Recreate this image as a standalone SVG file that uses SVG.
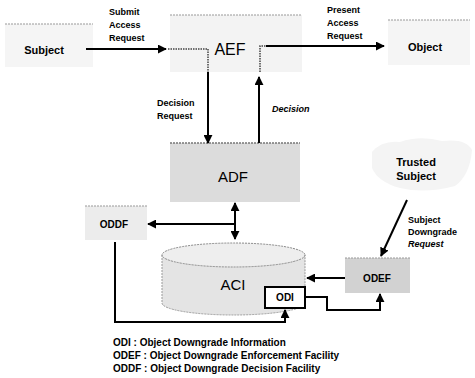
<svg xmlns="http://www.w3.org/2000/svg" width="475" height="378" viewBox="0 0 475 378">
<style>
  text { font-family: "Liberation Sans", Arial, sans-serif; fill: #000; }
  .lbl { font-size: 9px; font-weight: bold; }
  .node { font-size: 11px; font-weight: bold; }
  .small { font-size: 10px; font-weight: bold; }
  .big { font-size: 15px; }
  .leg { font-size: 10px; font-weight: bold; }
  .edge { stroke: #000; stroke-width: 2; fill: none; }
  .dot { stroke: #444; stroke-width: 1.5; stroke-dasharray: 1.5 1; fill: none; }
  .topline { stroke: #999; stroke-width: 1; stroke-dasharray: 2 1; }
</style>
<defs>
  <marker id="ah" viewBox="0 0 10 10" refX="9" refY="5" markerWidth="4.5" markerHeight="4.5" orient="auto-start-reverse">
    <path d="M0,0 L10,5 L0,10 Z" fill="#000"/>
  </marker>
</defs>
<rect width="475" height="378" fill="#fff"/>

<g id="subject">
  <rect x="5" y="24" width="88" height="43" fill="#f5f5f5"/>
  <line x1="5" y1="24" x2="93" y2="24" class="topline"/>
  <text x="44" y="54" class="node" text-anchor="middle">Subject</text>
</g>
<g id="aef">
  <rect x="170" y="15" width="132" height="57" fill="#f3f3f3"/>
  <line x1="170" y1="15" x2="302" y2="15" class="topline"/>
  <text x="230" y="55" font-size="16" text-anchor="middle">AEF</text>
</g>
<g id="object">
  <rect x="388" y="20" width="82" height="45" fill="#f5f5f5"/>
  <line x1="388" y1="20" x2="470" y2="20" class="topline"/>
  <text x="425" y="51" class="node" font-size="12.5" text-anchor="middle">Object</text>
</g>
<g id="adf">
  <rect x="170" y="143" width="130" height="59" fill="#dcdcdc"/>
  <line x1="170" y1="143" x2="300" y2="143" stroke="#777" stroke-width="1.5" stroke-dasharray="2 1"/>
  <text x="233" y="182" class="big" text-anchor="middle">ADF</text>
</g>
<g id="trusted">
  <path d="M372,152 Q382,140 400,142 Q420,135 442,141 Q466,138 472,150 Q470,175 455,186 Q425,194 400,188 Q378,182 372,168 Z" fill="#f4f4f4"/>
  <text x="416" y="166" class="node" font-size="12" text-anchor="middle">Trusted</text>
  <text x="416" y="180" class="node" font-size="12" text-anchor="middle">Subject</text>
</g>
<g id="oddf">
  <rect x="85" y="206" width="62" height="34" fill="#ececec"/>
  <line x1="85" y1="206" x2="147" y2="206" class="topline"/>
  <text x="114" y="228" class="small" text-anchor="middle">ODDF</text>
</g>
<g id="aci">
  <path d="M162,255 L162,303 A71.5,12 0 0 0 305,303 L305,255" fill="#e4e4e4"/>
  <ellipse cx="233.5" cy="255" rx="71.5" ry="12" fill="#eeeeee" stroke="#888" stroke-width="1" stroke-dasharray="2 1"/>
  <path d="M162,255 L162,303 A71.5,12 0 0 0 305,303 L305,255" fill="none" stroke="#999" stroke-width="1" stroke-dasharray="2 1"/>
  <text x="233" y="290" class="big" text-anchor="middle">ACI</text>
</g>
<g id="odi">
  <rect x="265" y="287" width="40" height="21" fill="#fff" stroke="#000" stroke-width="2"/>
  <text x="285" y="301" class="small" text-anchor="middle">ODI</text>
</g>
<g id="odef">
  <rect x="345" y="258" width="65" height="35" fill="#d2d2d2"/>
  <line x1="345" y1="258" x2="410" y2="258" class="topline"/>
  <text x="377" y="282" class="small" text-anchor="middle">ODEF</text>
</g>

<g id="connectors">
  <line x1="86" y1="49" x2="166" y2="49" class="edge" marker-end="url(#ah)"/>
  <path d="M168,49 H208 V72" class="dot"/>
  <path d="M260,72 V46 H266" class="dot"/>
  <line x1="266" y1="46" x2="384" y2="46" class="edge" marker-end="url(#ah)"/>
  <line x1="208" y1="72" x2="208" y2="143" class="edge" marker-end="url(#ah)"/>
  <line x1="259" y1="143" x2="259" y2="77" class="edge" marker-end="url(#ah)"/>
  <line x1="235" y1="203" x2="235" y2="239" class="edge" marker-start="url(#ah)" marker-end="url(#ah)"/>
  <line x1="235" y1="224" x2="148" y2="224" class="edge" marker-end="url(#ah)"/>
  <path d="M115,242 V322 H285 V310" class="edge" marker-end="url(#ah)"/>
  <line x1="345" y1="278" x2="307" y2="278" class="edge" marker-end="url(#ah)"/>
  <path d="M305,297 H327 V310 H380 V294" class="edge" marker-end="url(#ah)"/>
  <line x1="407" y1="200" x2="381" y2="256" class="edge" marker-end="url(#ah)"/>
</g>

<g id="labels">
  <text x="109" y="15" class="lbl">Submit</text>
  <text x="109" y="28" class="lbl">Access</text>
  <text x="109" y="41" class="lbl">Request</text>
  <text x="327" y="13" class="lbl">Present</text>
  <text x="327" y="26" class="lbl">Access</text>
  <text x="327" y="39" class="lbl">Request</text>
  <text x="157" y="106" class="lbl" font-size="9.5">Decision</text>
  <text x="157" y="119" class="lbl" font-size="9.5">Request</text>
  <text x="272" y="112" class="lbl" font-size="8" font-style="italic">Decision</text>
  <text x="408" y="223" class="lbl">Subject</text>
  <text x="408" y="235" class="lbl">Downgrade</text>
  <text x="408" y="247" class="lbl" font-style="italic">Request</text>
</g>

<g id="legend">
  <text x="113" y="346" class="leg">ODI : Object Downgrade Information</text>
  <text x="113" y="359" class="leg">ODEF : Object Downgrade Enforcement Facility</text>
  <text x="113" y="372" class="leg">ODDF : Object Downgrade Decision Facility</text>
</g>
</svg>
